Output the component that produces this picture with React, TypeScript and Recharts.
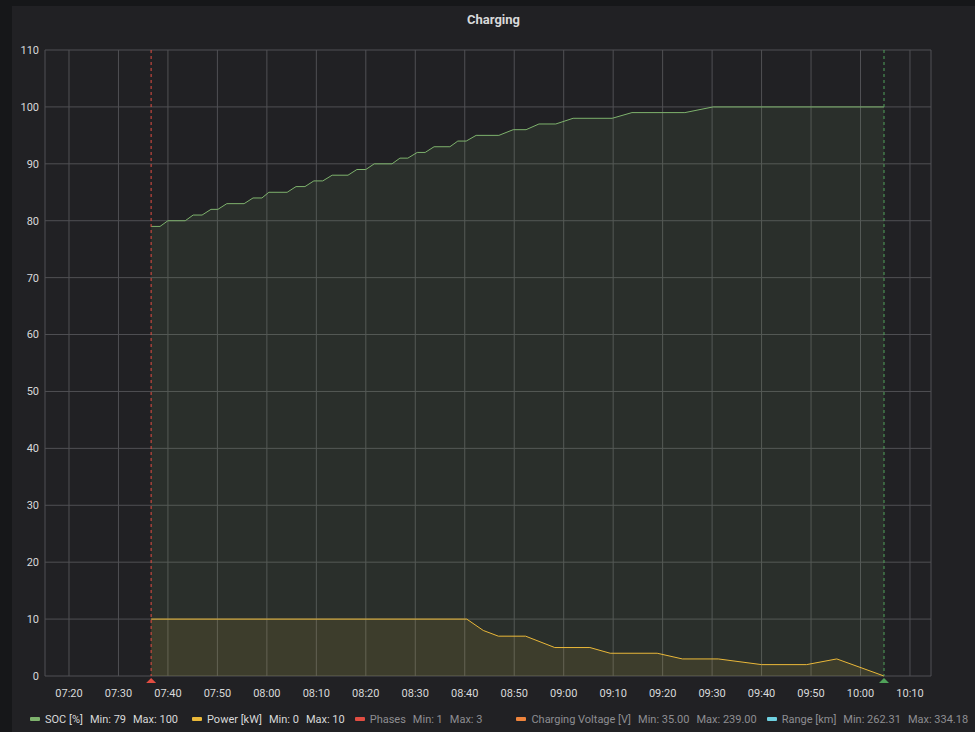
import {
  ComposedChart,
  Area,
  XAxis,
  YAxis,
  CartesianGrid,
  ReferenceLine,
} from "recharts";

// times are minutes since midnight
const socTimes = [
  456.6, 458.4, 460.0, 463.5, 465.1, 466.9, 468.7, 470.1, 471.9, 475.4, 477.2,
  479.0, 480.4, 484.1, 485.9, 487.7, 489.5, 491.3, 493.2, 496.4, 498.2, 500.0,
  501.7, 505.3, 506.9, 508.5, 510.4, 512.0, 513.8, 517.0, 518.6, 520.3, 522.3,
  526.9, 529.8, 532.4, 535.0, 538.4, 541.9, 549.8, 553.8, 564.5, 570.2, 604.75,
];
const socValues = [
  79, 79, 80, 80, 81, 81, 82, 82, 83, 83, 84, 84, 85, 85, 86, 86, 87, 87, 88,
  88, 89, 89, 90, 90, 91, 91, 92, 92, 93, 93, 94, 94, 95, 95, 96, 96, 97, 97,
  98, 98, 99, 99, 100, 100,
];

const powerTimes = [
  456.6, 520.4, 523.75, 526.8, 532.3, 538.2, 545.3, 549.4, 558.9, 564.0, 571.25,
  580.0, 589.1, 595.2, 604.75,
];
const powerValues = [10, 10, 8, 7, 7, 5, 5, 4, 4, 3, 3, 2, 2, 3, 0];

const timeTicks = [
  440, 450, 460, 470, 480, 490, 500, 510, 520, 530, 540, 550, 560, 570, 580,
  590, 600, 610,
];
const leftTicks = [0, 10, 20, 30, 40, 50, 60, 70, 80, 90, 100, 110];
const rightTicks = [-1, -0.75, -0.5, -0.25, 0, 0.25, 0.5, 0.75, 1];

const chargeStart = 456.6;
const chargeEnd = 604.75;

const legendItems = [
  { name: "SOC [%]", min: "79", max: "100", color: "#7eb26d", hidden: false },
  { name: "Power [kW]", min: "0", max: "10", color: "#eab839", hidden: false },
  { name: "Phases", min: "1", max: "3", color: "#e24d42", hidden: true },
  { name: "Charging Voltage [V]", min: "35.00", max: "239.00", color: "#ef843c", hidden: true },
  { name: "Range [km]", min: "262.31", max: "334.18", color: "#6ed0e0", hidden: true },
];

const TEXT = "#d8d9da";
const GRID = "#505054";

function hhmm(m: number): string {
  const h = Math.floor(m / 60);
  const mm = Math.round(m - h * 60);
  return `${String(h).padStart(2, "0")}:${String(mm).padStart(2, "0")}`;
}

function buildRows() {
  const map = new Map<number, Record<string, number>>();
  socTimes.forEach((t, i) => {
    const r = map.get(t) ?? { t };
    r.soc = socValues[i];
    map.set(t, r);
  });
  powerTimes.forEach((t, i) => {
    const r = map.get(t) ?? { t };
    r.power = powerValues[i];
    map.set(t, r);
  });
  return [...map.values()].sort((a, b) => a.t - b.t);
}

function annotation(color: string) {
  return (props: any) => {
    const { x1, y1, y2 } = props;
    const bottom = Math.max(y1, y2);
    return (
      <g>
        <line
          x1={x1}
          x2={x1}
          y1={Math.min(y1, y2)}
          y2={bottom}
          stroke={color}
          strokeWidth={1}
          strokeDasharray="3 3"
        />
        <polygon
          points={`${x1},${bottom + 2} ${x1 - 5},${bottom + 7} ${x1 + 5},${bottom + 7}`}
          fill={color}
        />
      </g>
    );
  };
}

export default function App() {
  const rows = buildRows();
  const tick = { fill: TEXT, fontSize: 11, fontFamily: "Roboto" };

  return (
    <div
      style={{
        position: "fixed",
        left: 0,
        top: 0,
        width: 975,
        height: 732,
        background: "#161719",
        overflow: "hidden",
        fontFamily: "Roboto, sans-serif",
      }}
    >
      <div
        style={{
          position: "absolute",
          left: 12,
          top: 6,
          width: 963,
          height: 726,
          background: "#212124",
        }}
      >
        <div
          style={{
            position: "absolute",
            left: 0,
            top: 6,
            width: 963,
            textAlign: "center",
            color: TEXT,
            fontSize: 13,
            fontWeight: 700,
            lineHeight: "16px",
          }}
        >
          Charging
        </div>
        <ComposedChart
          width={963}
          height={700}
          data={rows}
          margin={{ top: 44, right: 0, bottom: 0, left: 0 }}
          style={{ position: "absolute", left: 0, top: 0 }}
        >
          <CartesianGrid yAxisId="left" stroke={GRID} />
          <XAxis
            dataKey="t"
            type="number"
            domain={[435.15, 614.25]}
            allowDataOverflow
            ticks={timeTicks}
            tickFormatter={hhmm}
            axisLine={false}
            tickLine={false}
            tickSize={0}
            tickMargin={13}
            height={30}
            tick={tick}
            interval={0}
          />
          <YAxis
            yAxisId="left"
            domain={[0, 110]}
            ticks={leftTicks}
            axisLine={false}
            tickLine={false}
            tickSize={0}
            tickMargin={6}
            width={33}
            tick={tick}
            interval={0}
          />
          <YAxis
            yAxisId="right"
            orientation="right"
            domain={[-1, 1]}
            ticks={rightTicks}
            tickFormatter={(v: number) => (v === 0 ? "0" : v.toFixed(2))}
            axisLine={false}
            tickLine={{ stroke: "#6a6a6e" }}
            tickSize={5}
            tickMargin={5}
            width={44}
            tick={{ ...tick, textAnchor: "start" }}
            interval={0}
          />
          <Area
            yAxisId="left"
            type="linear"
            dataKey="soc"
            stroke="#7eb26d"
            strokeWidth={1}
            fill="#7eb26d"
            fillOpacity={0.1}
            connectNulls
            dot={false}
            activeDot={false}
            isAnimationActive={false}
          />
          <Area
            yAxisId="left"
            type="linear"
            dataKey="power"
            stroke="#eab839"
            strokeWidth={1}
            fill="#eab839"
            fillOpacity={0.1}
            connectNulls
            dot={false}
            activeDot={false}
            isAnimationActive={false}
          />
          <ReferenceLine
            yAxisId="left"
            x={chargeStart}
            shape={annotation("#e24d42")}
          />
          <ReferenceLine
            yAxisId="left"
            x={chargeEnd}
            shape={annotation("#50a25a")}
          />
        </ComposedChart>
        <div
          style={{
            position: "absolute",
            left: 18,
            top: 705,
            height: 16,
            display: "flex",
            alignItems: "center",
            fontSize: 11,
            whiteSpace: "nowrap",
          }}
        >
          {legendItems.map((it, i) => (
            <div
              key={it.name}
              style={{
                display: "flex",
                alignItems: "center",
                marginLeft: i === 0 ? 0 : i === 1 ? 14 : i === 3 ? 34 : 10,
                color: it.hidden ? "#8e8e92" : TEXT,
              }}
            >
              <span
                style={{
                  display: "inline-block",
                  width: 10,
                  height: 4,
                  borderRadius: 1,
                  background: it.color,
                  marginRight: 5,
                }}
              />
              <span>{it.name}</span>
              <span style={{ marginLeft: 7 }}>Min: {it.min}</span>
              <span style={{ marginLeft: 7 }}>Max: {it.max}</span>
            </div>
          ))}
        </div>
      </div>
    </div>
  );
}
